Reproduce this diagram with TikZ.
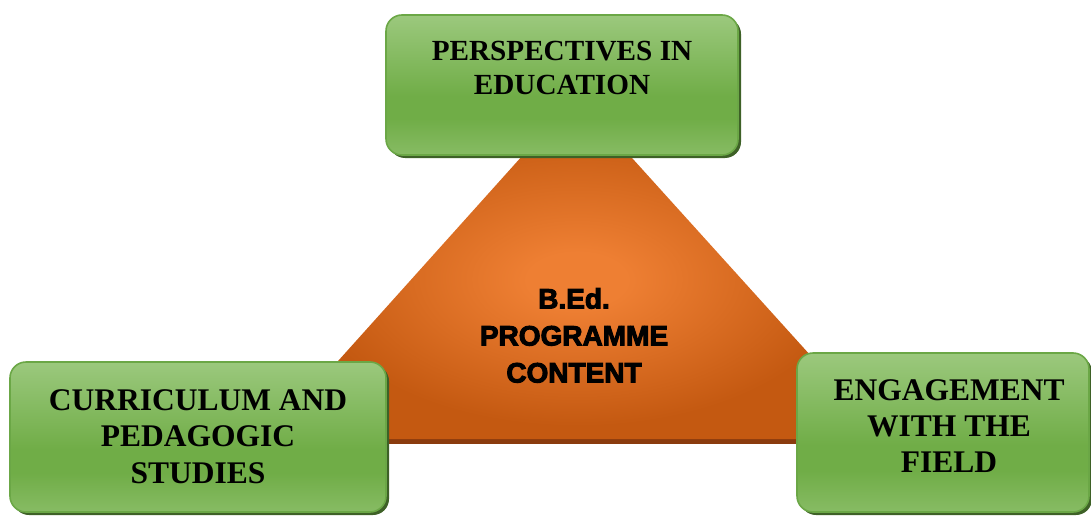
\documentclass[tikz,border=0pt]{standalone}
\usepackage{fontspec}
\setmainfont{Liberation Serif}
\newfontfamily\heavysans[BoldFeatures={FakeBold=3.5}]{Liberation Sans}
\usetikzlibrary{shadows}

\definecolor{greenlight}{HTML}{A9D18E}
\definecolor{greenmid}{HTML}{70AD47}
\definecolor{greenedge}{HTML}{6BA746}
\definecolor{greenshadow}{HTML}{3E6127}
\definecolor{orangelight}{HTML}{EE7F33}
\definecolor{orangedark}{HTML}{C45911}
\definecolor{orangebase}{HTML}{8A3B0E}

\pgfdeclareverticalshading{greenband}{100bp}{color(0bp)=(greenlight); color(6bp)=(greenlight); color(38bp)=(greenmid); color(46bp)=(greenmid); color(84bp)=(greenlight); color(100bp)=(greenlight)}
\pgfdeclareradialshading{orangeglow}{\pgfpoint{0bp}{-2bp}}{color(0bp)=(orangelight); color(4bp)=(orangelight); color(22bp)=(orangedark); color(50bp)=(orangedark)}

\tikzset{
  greenbox/.style={rectangle, rounded corners=16pt, draw=greenedge, line width=1.6pt,
    shading=greenband, drop shadow={shadow xshift=3pt, shadow yshift=-3pt, fill=greenshadow, opacity=1}},
  boxtext/.style={anchor=north, inner sep=0pt, align=center},
  coretext/.style={anchor=north, inner sep=0pt, align=center, font=\fontsize{28}{37}\selectfont\heavysans\bfseries}
}

\begin{document}
\begin{tikzpicture}[x=1pt, y=-1pt]
  \useasboundingbox (0,0) rectangle (1091,516);

  % central triangle
  \coordinate (apex) at (576,96);
  \coordinate (baseL) at (268,439);
  \coordinate (baseR) at (886,439);
  \fill[orangebase] (baseL) rectangle ([yshift=-5pt]baseR);
  \shade[shading=orangeglow] (apex) -- (baseR) -- (baseL) -- cycle;
  \node[coretext] (core) at (574,288) {B.Ed.\\PROGRAMME\\CONTENT};

  % the three components
  \node[greenbox, minimum width=352pt, minimum height=140pt] (persp) at (562,85) {};
  \node[greenbox, minimum width=376pt, minimum height=150pt] (curric) at (198,437) {};
  \node[greenbox, minimum width=292pt, minimum height=159pt] (field) at (943,432.5) {};

  % labels
  \node[boxtext, font=\fontsize{29.2}{34}\selectfont\bfseries] (perspText) at ([yshift=-27pt]persp.north) {PERSPECTIVES IN\\EDUCATION};
  \node[boxtext, font=\fontsize{31.5}{36.5}\selectfont\bfseries] (curricText) at ([yshift=-28pt]curric.north) {CURRICULUM AND\\PEDAGOGIC\\STUDIES};
  \node[boxtext, font=\fontsize{31.5}{36}\selectfont\bfseries] (fieldText) at ([xshift=6pt, yshift=-27pt]field.north) {ENGAGEMENT\\WITH THE\\FIELD};
\end{tikzpicture}
\end{document}
